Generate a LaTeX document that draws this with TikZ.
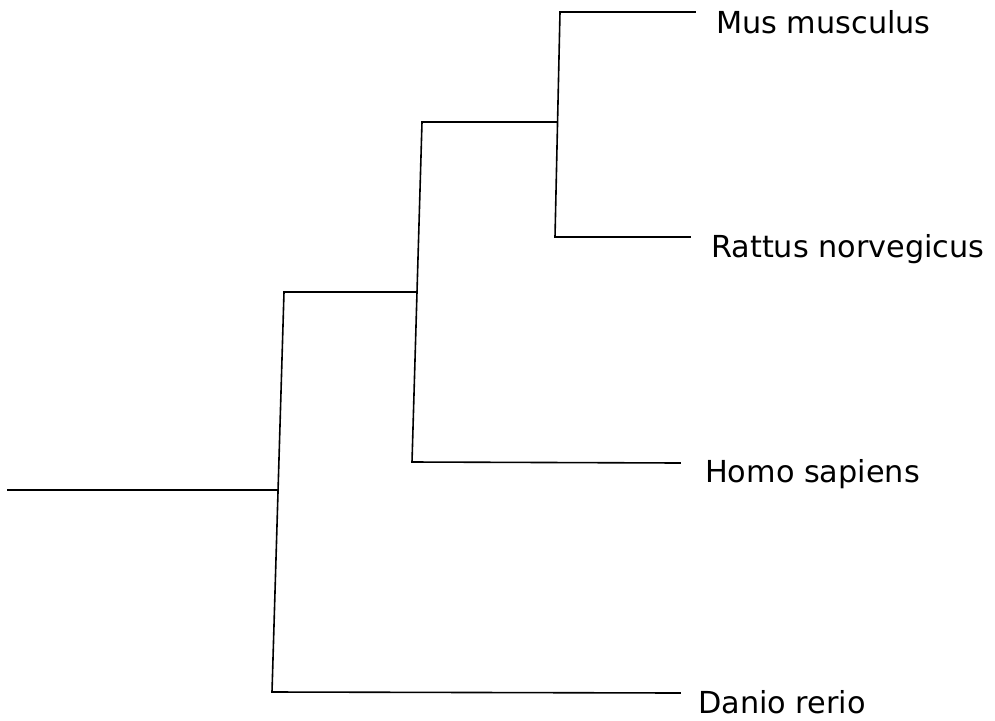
\documentclass[tikz,border=0pt]{standalone}
\usepackage{fontspec}
\setmainfont{DejaVu Sans}
\begin{document}
\begin{tikzpicture}[x=1pt,y=-1pt,
  branch/.style={line width=1.6pt,black,line cap=rect},
  taxon/.style={anchor=west,inner sep=0pt,font=\fontsize{30.3}{30.3}\selectfont}]
\useasboundingbox (0,0) rectangle (995,720);
% root
\coordinate (r0) at (8,490);
\coordinate (r1) at (277,490);
% node A (root split)
\coordinate (a1) at (284,292);
\coordinate (a2) at (272,692);
% node B
\coordinate (b0) at (415,292);
\coordinate (b1) at (422,122);
\coordinate (b2) at (412,462);
% node C
\coordinate (c0) at (557,122);
\coordinate (c1) at (560,12);
\coordinate (c2) at (555,237);
% tips
\coordinate (t1) at (695,12);
\coordinate (t2) at (690,237);
\coordinate (t3) at (680,463);
\coordinate (t4) at (680,693);
\draw[branch] (r0) -- (r1);
\draw[branch] (a1) -- (a2);
\draw[branch] (a1) -- (b0);
\draw[branch] (a2) -- (t4);
\draw[branch] (b1) -- (b2);
\draw[branch] (b1) -- (c0);
\draw[branch] (b2) -- (t3);
\draw[branch] (c1) -- (c2);
\draw[branch] (c1) -- (t1);
\draw[branch] (c2) -- (t2);
\node[taxon] (mus) at (716,22) {Mus musculus};
\node[taxon] (rat) at (711,249) {Rattus norvegicus};
\node[taxon] (homo) at (705,474) {Homo sapiens};
\node[taxon] (dan) at (698,702) {Danio rerio};
\end{tikzpicture}
\end{document}
